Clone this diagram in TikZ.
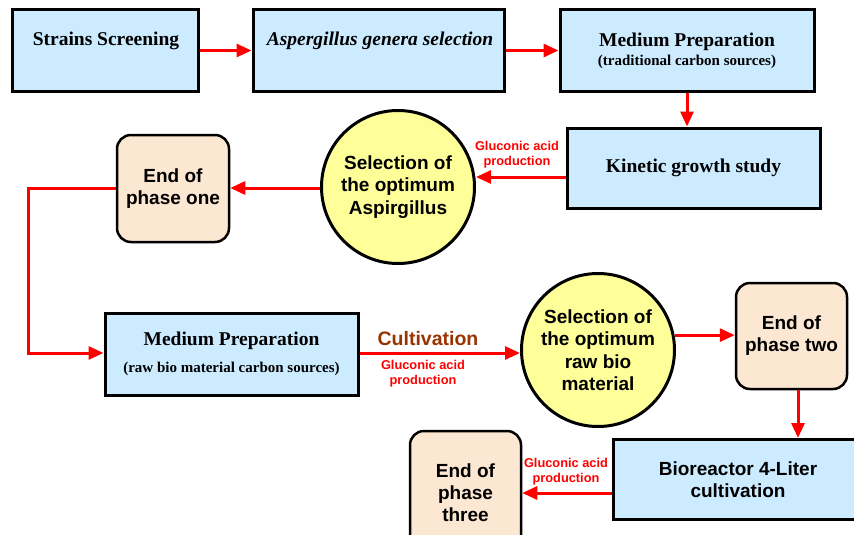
\documentclass[tikz,border=0pt]{standalone}
\usepackage{fontspec}
\setmainfont{Liberation Serif}
\setsansfont{Liberation Sans}
\usetikzlibrary{arrows.meta}
\definecolor{boxblue}{HTML}{CCEBFF}
\definecolor{circyel}{HTML}{FFFF99}
\definecolor{peach}{HTML}{FCE8D2}
\definecolor{cultbrown}{HTML}{993300}
\begin{document}
\begin{tikzpicture}[x=1pt,y=-1pt,
  bluebox/.style={draw=black,line width=3pt,fill=boxblue,inner sep=0pt,align=center,
    font=\bfseries\fontsize{19.5}{20}\selectfont},
  selcirc/.style={circle,draw=black,line width=3pt,fill=circyel,inner sep=0pt,
    minimum size=153pt,align=center,font=\sffamily\bfseries\fontsize{19}{22.5}\selectfont},
  endbox/.style={draw=black,line width=2.5pt,fill=peach,rounded corners=14pt,inner sep=0pt,
    align=center,font=\sffamily\bfseries\fontsize{19}{22}\selectfont},
  boxtext/.style={inner sep=0pt,align=center,font=\bfseries\fontsize{19.5}{20}\selectfont},
  redlabel/.style={inner sep=0pt,align=center,text=red,
    font=\sffamily\bfseries\fontsize{12.8}{15}\selectfont},
  redarrow/.style={draw=red,line width=3pt,-{Triangle[length=15pt,width=13pt]}}
]
\clip (0,0) rectangle (854,535);
\fill[white] (0,0) rectangle (854,535);

% top row
\node[bluebox,minimum width=186pt,minimum height=81pt] (ss) at (105,50.5) {};
\node[boxtext] (sst) at (106,41) {Strains Screening};
\node[bluebox,minimum width=251pt,minimum height=81pt] (ags) at (378.5,50.5) {};
\node[boxtext] (agst) at (380,41) {\itshape Aspergillus genera selection};
\node[bluebox,minimum width=254pt,minimum height=81pt] (mp1) at (687,50.5)
  {Medium Preparation\\[-1pt]{\fontsize{15}{15}\selectfont (traditional carbon sources)}};

% second row
\node[bluebox,minimum width=253pt,minimum height=80pt] (kg) at (693.5,168) {Kinetic growth study};
\node[selcirc] (c1) at (398,187) {Selection of\\the optimum\\Aspirgillus};
\node[endbox,minimum width=112pt,minimum height=107pt] (e1) at (173,188.5) {End of\\phase one};

% third row
\node[bluebox,minimum width=253pt,minimum height=82pt] (mp2) at (231.5,354)
  {Medium Preparation\\[7pt]{\fontsize{15}{15}\selectfont (raw bio material carbon sources)}};
\node[selcirc] (c2) at (598,350) {Selection of\\the optimum\\raw bio\\material};
\node[endbox,minimum width=111pt,minimum height=106pt] (e2) at (791.5,336) {End of\\phase two};

% bottom row
\node[bluebox,minimum width=250pt,minimum height=80pt,font=\sffamily\bfseries\fontsize{19}{22}\selectfont]
  (br) at (738,479.5) {Bioreactor 4-Liter\\cultivation};
\node[endbox,minimum width=111pt,minimum height=124pt] (e3) at (465.5,493) {End of\\phase\\three};

% connectors
\coordinate (lft) at (28,0);
\draw[redarrow] (ss.east) -- (ags.west);
\draw[redarrow] (ags.east) -- (mp1.west);
\draw[redarrow] (mp1.south) -- (mp1.south |- kg.north);
\draw[redarrow] (kg.west |- 0,177) -- (c1.east |- 0,177);
\draw[redarrow] (c1.west |- 0,188) -- (e1.east |- 0,188);
\draw[redarrow] (e1.west |- 0,188) -- (lft |- 0,188) |- (mp2.west |- 0,353);
\draw[redarrow] (mp2.east |- 0,353) -- (c2.west |- 0,353);
\draw[redarrow] (c2.11) -- (c2.11 -| e2.west);
\draw[redarrow] (e2.south -| 798,0) -- (br.north -| 798,0);
\draw[redarrow] (br.west |- 0,493) -- (e3.east |- 0,493);

% labels
\node[redlabel] (lab1) at (517,155) {Gluconic acid\\production};
\node[inner sep=0pt,text=cultbrown,font=\sffamily\bfseries\fontsize{19.5}{20}\selectfont] (cult) at (428,339) {Cultivation};
\node[redlabel] (lab2) at (423,374) {Gluconic acid\\production};
\node[redlabel] (lab3) at (566,472) {Gluconic acid\\production};
\end{tikzpicture}
\end{document}
